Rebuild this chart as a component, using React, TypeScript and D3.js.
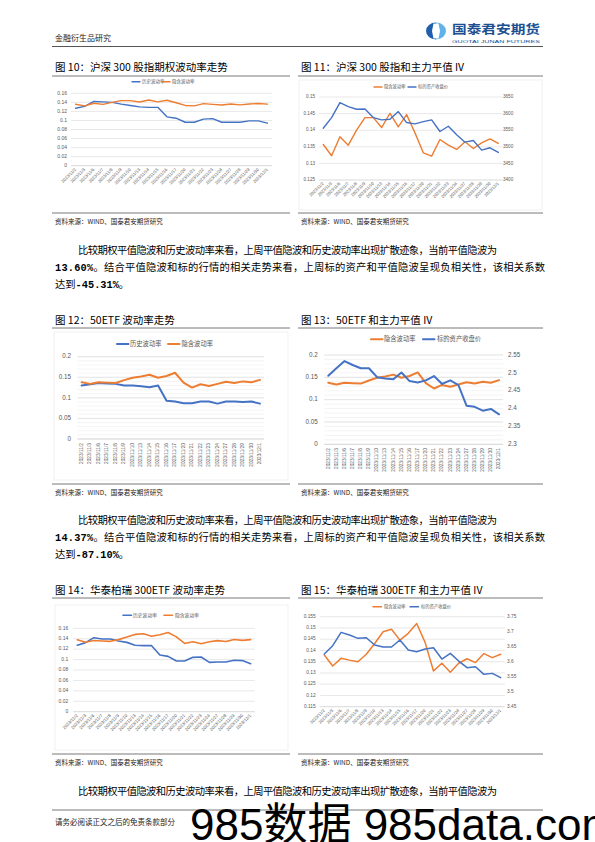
import React from 'react';
import * as d3 from 'd3';

const dates = ["2023/11/2","2023/11/3","2023/11/6","2023/11/7","2023/11/8","2023/11/9","2023/11/10","2023/11/13","2023/11/14","2023/11/15","2023/11/16","2023/11/17","2023/11/20","2023/11/21","2023/11/22","2023/11/23","2023/11/24","2023/11/27","2023/11/28","2023/11/29","2023/11/30","2023/12/1"];

const hs300HistVol = [0.127,0.131,0.142,0.141,0.140,0.136,0.133,0.130,0.129,0.129,0.108,0.105,0.096,0.096,0.103,0.104,0.096,0.096,0.096,0.099,0.099,0.094];
const hs300ImpVol = [0.1357,0.1323,0.138,0.1355,0.140,0.1438,0.1438,0.1408,0.1451,0.141,0.1447,0.1392,0.1332,0.1322,0.1372,0.1355,0.1342,0.1365,0.1345,0.1362,0.1374,0.136];
const hs300Index = [3556,3588,3633,3621,3613,3614,3588,3581,3583,3606,3573,3569,3576,3581,3546,3562,3536,3514,3519,3490,3497,3483];

const etf50HistVol = [0.130,0.133,0.136,0.135,0.134,0.130,0.130,0.128,0.126,0.130,0.093,0.091,0.087,0.087,0.091,0.091,0.086,0.091,0.091,0.090,0.091,0.086];
const etf50ImpVol = [0.138,0.134,0.138,0.137,0.136,0.143,0.149,0.152,0.156,0.149,0.153,0.161,0.137,0.125,0.133,0.129,0.134,0.139,0.136,0.140,0.138,0.1437];
const etf50Close = [2.492,2.513,2.533,2.522,2.513,2.513,2.488,2.484,2.482,2.501,2.477,2.473,2.479,2.491,2.469,2.479,2.466,2.408,2.405,2.394,2.399,2.384];

const hz300HistVol = [0.1274,0.1325,0.142,0.1395,0.1395,0.1357,0.133,0.1274,0.1267,0.1267,0.1088,0.1062,0.0973,0.0973,0.1043,0.105,0.0947,0.0954,0.0954,0.0986,0.098,0.0922];
const hz300ImpVol = [0.138,0.1331,0.1365,0.1357,0.135,0.1383,0.1431,0.1483,0.1494,0.1446,0.1476,0.152,0.1436,0.1309,0.1343,0.1303,0.1343,0.1363,0.1346,0.1386,0.1368,0.1383];
const hz300Close = [3.6256,3.6533,3.6978,3.6889,3.6778,3.68,3.6556,3.6489,3.6489,3.6722,3.6389,3.6333,3.6422,3.6467,3.6089,3.6278,3.6022,3.58,3.5833,3.5578,3.5611,3.5467];

const ticksVol016 = [0,0.02,0.04,0.06,0.08,0.1,0.12,0.14,0.16];
const ticks11L = [0.125,0.13,0.135,0.14,0.145,0.15];
const ticks11R = [3400,3450,3500,3550,3600,3650];
const ticksVol02 = [0,0.05,0.1,0.15,0.2];
const ticks13R = [2.3,2.35,2.4,2.45,2.5,2.55];
const ticks15L = [0.115,0.12,0.125,0.13,0.135,0.14,0.145,0.15,0.155];
const ticks15R = [3.45,3.5,3.55,3.6,3.65,3.7,3.75];

const histLabel = "历史波动率";
const impLabel = "隐含波动率";
const closeLabel = "标的资产收盘价";

const BLUE = "#4472C4";
const ORANGE = "#ED7D31";
const CJK = "'Noto Sans CJK SC', 'Noto Sans', sans-serif";
const LAT = "'Liberation Sans', Arial, sans-serif";

type Series = { values: number[]; color: string; axis: 'L' | 'R' };
type LegendItem = { label: string; color: string; lx: number; tx: number };
type ChartProps = {
  x0: number; x1: number; yTop: number; yBot: number;
  leftTicks: number[]; leftLabelX: number;
  rightTicks?: number[]; rightLabelX?: number;
  minorStep?: number;
  series: Series[];
  legend: LegendItem[]; legendY: number; legendFs: number; legendLen: number;
  tickFs: number; xFs: number; rot: number; xLabelY: number; sw: number;
};

const fmt = (v: number) => String(+v.toFixed(4));

function LineChart(p: ChartProps) {
  const x = d3.scalePoint<string>().domain(dates).range([p.x0, p.x1]).padding(0.5);
  const yL = d3.scaleLinear().domain([p.leftTicks[0], p.leftTicks[p.leftTicks.length - 1]]).range([p.yBot, p.yTop]);
  const yR = p.rightTicks ? d3.scaleLinear().domain([p.rightTicks[0], p.rightTicks[p.rightTicks.length - 1]]).range([p.yBot, p.yTop]) : yL;
  const minor: number[] = [];
  if (p.minorStep) {
    const [a, b] = yL.domain();
    for (let v = a; v <= b + 1e-9; v += p.minorStep) minor.push(v);
  }
  return (
    <g>
      {minor.map((v, i) => (
        <line key={'m' + i} x1={p.x0} x2={p.x1} y1={yL(v)} y2={yL(v)} stroke="#ececec" strokeWidth={0.6} />
      ))}
      {p.leftTicks.map((v, i) => (
        <g key={'l' + i}>
          <line x1={p.x0} x2={p.x1} y1={yL(v)} y2={yL(v)} stroke={i === 0 ? '#bfbfbf' : '#d9d9d9'} strokeWidth={0.6} />
          <text x={p.leftLabelX} y={yL(v)} fontSize={p.tickFs} fill="#595959" textAnchor="end" dominantBaseline="middle" fontFamily={LAT}>{fmt(v)}</text>
        </g>
      ))}
      {p.rightTicks && p.rightTicks.map((v, i) => (
        <text key={'r' + i} x={p.rightLabelX} y={yR(v)} fontSize={p.tickFs} fill="#595959" textAnchor="start" dominantBaseline="middle" fontFamily={LAT}>{fmt(v)}</text>
      ))}
      {dates.map((d, i) => (
        <text key={'x' + i} transform={`translate(${x(d)},${p.xLabelY}) rotate(${p.rot})`} fontSize={p.xFs} fill="#595959" textAnchor="end" dominantBaseline="middle" fontFamily={LAT}>{d}</text>
      ))}
      {p.series.map((s, i) => {
        const sc = s.axis === 'L' ? yL : yR;
        const gen = d3.line<number>().x((_, j) => x(dates[j]) as number).y(v => sc(v));
        return <path key={'s' + i} d={gen(s.values) || ''} fill="none" stroke={s.color} strokeWidth={p.sw} strokeLinejoin="round" strokeLinecap="round" />;
      })}
      {p.legend.map((it, i) => (
        <g key={'g' + i}>
          <line x1={it.lx} x2={it.lx + p.legendLen} y1={p.legendY} y2={p.legendY} stroke={it.color} strokeWidth={p.sw} strokeLinecap="round" />
          <text x={it.tx} y={p.legendY} fontSize={p.legendFs} fill="#595959" dominantBaseline="middle" fontFamily={CJK}>{it.label}</text>
        </g>
      ))}
    </g>
  );
}

function Title({ x, y, text }: { x: number; y: number; text: string }) {
  return <text x={x} y={y} fontSize={10.5} fontFamily={CJK} fill="#000">{text}</text>;
}

function Source({ x, y }: { x: number; y: number }) {
  return <text x={x} y={y} fontSize={6.5} fontFamily={CJK} fill="#222">资料来源：WIND、国泰君安期货研究</text>;
}

function Para({ y, num, corr }: { y: number; num: string; corr: string }) {
  const fs = 10.3;
  return (
    <g fontFamily={CJK} fontSize={fs} fill="#000">
      <text x={78} y={y} textLength={419} lengthAdjust="spacing">比较期权平值隐波和历史波动率来看，上周平值隐波和历史波动率出现扩散迹象，当前平值隐波为</text>
      <text x={55} y={y + 17} textLength={490} lengthAdjust="spacing"><tspan fontFamily="'Liberation Mono', monospace" fontWeight="bold">{num}</tspan>。结合平值隐波和标的行情的相关走势来看，上周标的资产和平值隐波呈现负相关性，该相关系数</text>
      <text x={55} y={y + 34}>达到<tspan fontFamily="'Liberation Mono', monospace" fontWeight="bold">{corr}</tspan>。</text>
    </g>
  );
}

export default function App() {
  return (
    <svg width={595} height={842} style={{ position: 'absolute', left: 0, top: 0, background: '#fff' }} xmlns="http://www.w3.org/2000/svg">
      <rect x={0} y={0} width={595} height={842} fill="#fff" />
      {/* header */}
      <text x={55} y={41} fontSize={8} fontFamily={CJK} fill="#222">金融衍生品研究</text>
      <path d="M436,22.5 A10,8.5 0 0 0 436,39.5 Z" fill="#1f5fae" />
      <path d="M436,22.5 A10,8.5 0 0 1 436,39.5 Z" fill="#5fb3e8" />
      <path d="M433.5,23.5 L438.5,23.5 L440,31 L438.5,38.5 L433.5,38.5 L432,31 Z" fill="#fff" />
      <text x={452} y={34} fontSize={12.5} fontWeight="bold" fontFamily={CJK} fill="#1d4f91" textLength={88} lengthAdjust="spacingAndGlyphs">国泰君安期货</text>
      <text x={452} y={42.5} fontSize={4.4} fontFamily={LAT} fill="#1d4f91" textLength={88} lengthAdjust="spacingAndGlyphs">GUOTAI JUNAN FUTURES</text>
      <line x1={52} x2={543} y1={46.5} y2={46.5} stroke="#555" strokeWidth={1} />

      {/* Chart 10 */}
      <Title x={55} y={71} text="图 10：沪深 300 股指期权波动率走势" />
      <line x1={52} x2={290} y1={76} y2={76} stroke="#555" strokeWidth={0.8} />
      <LineChart x0={71} x1={272} yTop={93.3} yBot={165.7} leftTicks={ticksVol016} leftLabelX={67}
        series={[{ values: hs300HistVol, color: BLUE, axis: 'L' }, { values: hs300ImpVol, color: ORANGE, axis: 'L' }]}
        legend={[{ label: histLabel, color: BLUE, lx: 132, tx: 142 }, { label: impLabel, color: ORANGE, lx: 162, tx: 172 }]}
        legendY={81.7} legendFs={4.5} legendLen={8} tickFs={5} xFs={4.3} rot={-45} xLabelY={169} sw={1.4} />
      <line x1={52} x2={290} y1={213} y2={213} stroke="#555" strokeWidth={0.8} />
      <Source x={55} y={224} />

      {/* Chart 11 */}
      <Title x={301} y={71} text="图 11：沪深 300 股指和主力平值 IV" />
      <line x1={298} x2={543} y1={76} y2={76} stroke="#555" strokeWidth={0.8} />
      <rect x={299} y={80} width={243} height={130} fill="none" stroke="#e6e6e6" strokeWidth={0.6} />
      <LineChart x0={319.1} x1={502.5} yTop={97} yBot={180} leftTicks={ticks11L} leftLabelX={315}
        rightTicks={ticks11R} rightLabelX={503}
        series={[{ values: hs300ImpVol, color: ORANGE, axis: 'L' }, { values: hs300Index, color: BLUE, axis: 'R' }]}
        legend={[{ label: impLabel, color: ORANGE, lx: 374, tx: 384 }, { label: closeLabel, color: BLUE, lx: 408, tx: 418 }]}
        legendY={87} legendFs={4.3} legendLen={8} tickFs={4.6} xFs={4.2} rot={-45} xLabelY={183} sw={1.4} />
      <line x1={298} x2={543} y1={213} y2={213} stroke="#555" strokeWidth={0.8} />
      <Source x={301} y={224} />

      <Para y={254} num="13.60%" corr="-45.31%" />

      {/* Chart 12 */}
      <Title x={55} y={324} text="图 12：50ETF 波动率走势" />
      <line x1={52} x2={290} y1={328} y2={328} stroke="#555" strokeWidth={0.8} />
      <rect x={54} y={332} width={234} height={148} fill="none" stroke="#e6e6e6" strokeWidth={0.6} />
      <LineChart x0={77.4} x1={264.2} yTop={356.7} yBot={439} leftTicks={ticksVol02} leftLabelX={71} minorStep={0.01}
        series={[{ values: etf50HistVol, color: BLUE, axis: 'L' }, { values: etf50ImpVol, color: ORANGE, axis: 'L' }]}
        legend={[{ label: histLabel, color: BLUE, lx: 117, tx: 130 }, { label: impLabel, color: ORANGE, lx: 168, tx: 181.5 }]}
        legendY={344} legendFs={6.3} legendLen={11.5} tickFs={6.3} xFs={4.8} rot={-90} xLabelY={443} sw={2} />
      <line x1={52} x2={290} y1={484} y2={484} stroke="#555" strokeWidth={0.8} />
      <Source x={55} y={495} />

      {/* Chart 13 */}
      <Title x={301} y={324} text="图 13：50ETF 和主力平值 IV" />
      <line x1={298} x2={543} y1={328} y2={328} stroke="#555" strokeWidth={0.8} />
      <LineChart x0={324.2} x1={503.1} yTop={355} yBot={444.3} leftTicks={ticksVol02} leftLabelX={317.7} minorStep={0.01}
        rightTicks={ticks13R} rightLabelX={508}
        series={[{ values: etf50ImpVol, color: ORANGE, axis: 'L' }, { values: etf50Close, color: BLUE, axis: 'R' }]}
        legend={[{ label: impLabel, color: ORANGE, lx: 371, tx: 384 }, { label: closeLabel, color: BLUE, lx: 423, tx: 437 }]}
        legendY={339.3} legendFs={6.3} legendLen={11.5} tickFs={6.3} xFs={4.8} rot={-90} xLabelY={448} sw={2} />
      <line x1={298} x2={543} y1={484} y2={484} stroke="#555" strokeWidth={0.8} />
      <Source x={301} y={495} />

      <Para y={523.5} num="14.37%" corr="-87.10%" />

      {/* Chart 14 */}
      <Title x={55} y={594} text="图 14：华泰柏瑞 300ETF 波动率走势" />
      <line x1={52} x2={290} y1={598} y2={598} stroke="#555" strokeWidth={0.8} />
      <rect x={55} y={605} width={233} height={145} fill="none" stroke="#e6e6e6" strokeWidth={0.6} />
      <LineChart x0={73.2} x1={254.8} yTop={628.3} yBot={711.7} leftTicks={ticksVol016} leftLabelX={68.3}
        series={[{ values: hz300HistVol, color: BLUE, axis: 'L' }, { values: hz300ImpVol, color: ORANGE, axis: 'L' }]}
        legend={[{ label: histLabel, color: BLUE, lx: 123, tx: 133 }, { label: impLabel, color: ORANGE, lx: 164, tx: 175 }]}
        legendY={615.3} legendFs={4.8} legendLen={8.5} tickFs={5} xFs={4.4} rot={-45} xLabelY={715} sw={1.6} />
      <line x1={52} x2={290} y1={754} y2={754} stroke="#555" strokeWidth={0.8} />
      <Source x={55} y={765} />

      {/* Chart 15 */}
      <Title x={301} y={594} text="图 15：华泰柏瑞 300ETF 和主力平值 IV" />
      <line x1={298} x2={543} y1={598} y2={598} stroke="#555" strokeWidth={0.8} />
      <LineChart x0={320.1} x1={504.9} yTop={616.7} yBot={706.7} leftTicks={ticks15L} leftLabelX={315.7}
        rightTicks={ticks15R} rightLabelX={507}
        series={[{ values: hz300ImpVol, color: ORANGE, axis: 'L' }, { values: hz300Close, color: BLUE, axis: 'R' }]}
        legend={[{ label: impLabel, color: ORANGE, lx: 373, tx: 384 }, { label: closeLabel, color: BLUE, lx: 410, tx: 421 }]}
        legendY={606.7} legendFs={4.3} legendLen={8.5} tickFs={4.8} xFs={4.3} rot={-45} xLabelY={710} sw={1.5} />
      <line x1={298} x2={543} y1={754} y2={754} stroke="#555" strokeWidth={0.8} />
      <Source x={301} y={765} />

      <text x={78} y={795} fontSize={10.3} fontFamily={CJK} fill="#000" textLength={419} lengthAdjust="spacing">比较期权平值隐波和历史波动率来看，上周平值隐波和历史波动率出现扩散迹象，当前平值隐波为</text>

      {/* footer */}
      <line x1={52} x2={543} y1={810} y2={810} stroke="#555" strokeWidth={0.8} />
      <text x={55} y={825} fontSize={7.5} fontFamily={CJK} fill="#222">请务必阅读正文之后的免责条款部分</text>
      <text x={538} y={825} fontSize={7.5} fontFamily={LAT} fill="#222">5</text>
      <text x={190} y={840} fontSize={44} fontFamily={`${LAT}, 'Noto Sans CJK SC'`} fill="#000">985数据 985data.com</text>
    </svg>
  );
}
